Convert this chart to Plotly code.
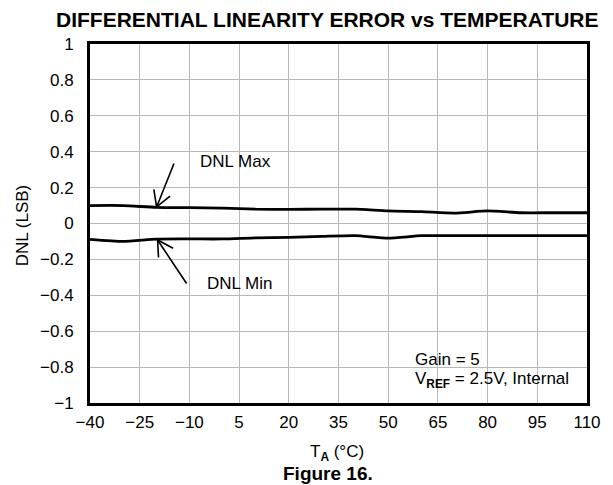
import plotly.graph_objects as go

temps = [-40, -30, -20, -10, 0, 10, 20, 30, 40, 50, 60, 70, 80, 90, 100, 110]
dnl_max = [0.100, 0.100, 0.090, 0.088, 0.086, 0.080, 0.079, 0.080, 0.080, 0.070, 0.066, 0.058, 0.070, 0.060, 0.060, 0.060]
dnl_min = [-0.088, -0.100, -0.087, -0.086, -0.086, -0.080, -0.077, -0.072, -0.068, -0.082, -0.068, -0.068, -0.068, -0.068, -0.068, -0.068]

x_ticks = [-40, -25, -10, 5, 20, 35, 50, 65, 80, 95, 110]
y_ticks = [-1, -0.8, -0.6, -0.4, -0.2, 0, 0.2, 0.4, 0.6, 0.8, 1]
y_labels = ["\u22121", "\u22120.8", "\u22120.6", "\u22120.4", "\u22120.2", "0", "0.2", "0.4", "0.6", "0.8", "1"]
x_labels = [str(v).replace("-", "\u2212") for v in x_ticks]

FONT = "Liberation Sans, Arial, sans-serif"
FS = 17

fig = go.Figure()
for ys in (dnl_max, dnl_min):
    fig.add_trace(go.Scatter(x=temps, y=ys, mode="lines",
                             line=dict(color="black", width=2.8, shape="spline", smoothing=0.6),
                             showlegend=False, hoverinfo="skip"))

fig.update_layout(
    width=605, height=477,
    margin=dict(l=82, r=16, t=36, b=82),
    paper_bgcolor="white", plot_bgcolor="white",
    font=dict(family=FONT, size=FS, color="black"),
    xaxis=dict(range=[-40, 110], tickvals=x_ticks, ticktext=x_labels,
               showgrid=True, gridcolor="#b8b8b8", gridwidth=1,
               zeroline=False, showline=True, linecolor="black", linewidth=3, mirror=True,
               ticks="", ticklen=0, ticklabelstandoff=2),
    yaxis=dict(range=[-1, 1], tickvals=y_ticks, ticktext=y_labels,
               showgrid=True, gridcolor="#b8b8b8", gridwidth=1,
               zeroline=False, showline=True, linecolor="black", linewidth=3, mirror=True,
               ticks="", ticklen=0, ticklabelstandoff=10),
)

def paper_text(x, y, text, size=FS, angle=0):
    fig.add_annotation(x=x, y=y, xref="paper", yref="paper", text=text, showarrow=False,
                       xanchor="center", yanchor="middle", textangle=angle,
                       font=dict(size=size, family=FONT, color="black"))

paper_text(0.477, 1.067, "<b>DIFFERENTIAL LINEARITY ERROR vs TEMPERATURE</b>", size=21)
paper_text(-0.134, 0.496, "DNL (LSB)", angle=-90)
paper_text(0.497, -0.139, "T<sub><b>A</b></sub> (°C)")
paper_text(0.478, -0.195, "<b>Figure 16.</b>", size=19)

def arrow_line(x, y, ax, ay):
    fig.add_annotation(x=x, y=y, xref="x", yref="y", ax=ax, ay=ay, text="",
                       showarrow=True, arrowhead=0, arrowwidth=1.6, arrowcolor="black",
                       standoff=0, startstandoff=0)

# DNL Max arrow (shaft + two barbs), head on the max curve
max_head = (-19.9, 0.092)
arrow_line(*max_head, 18, -45)
arrow_line(*max_head, -3, -19)
arrow_line(*max_head, 15, -12)
# DNL Min arrow
min_head = (-19.6, -0.092)
arrow_line(*min_head, 30, 45)
arrow_line(*min_head, 1, 19)
arrow_line(*min_head, 17, 9)

fig.add_annotation(x=3.9, y=0.344, xref="x", yref="y", text="DNL Max", showarrow=False,
                   xanchor="center", yanchor="middle")
fig.add_annotation(x=5.4, y=-0.333, xref="x", yref="y", text="DNL Min", showarrow=False,
                   xanchor="center", yanchor="middle")
fig.add_annotation(x=57.6, y=-0.76, xref="x", yref="y", xanchor="left", yanchor="middle",
                   text="Gain = 5", showarrow=False)
fig.add_annotation(x=57.6, y=-0.872, xref="x", yref="y", xanchor="left", yanchor="middle",
                   text="V<sub><b>REF</b></sub> = 2.5V, Internal", showarrow=False)

fig.write_html("out.html")
